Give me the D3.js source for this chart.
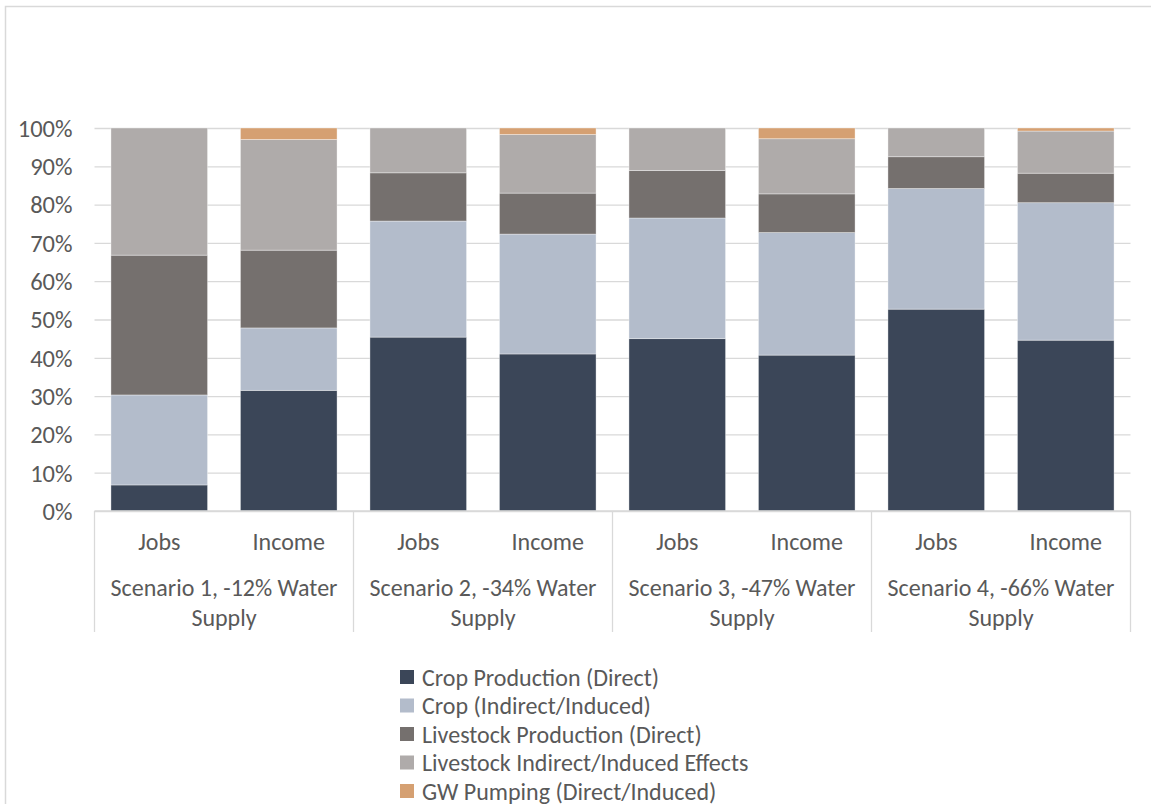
<!DOCTYPE html>
<html>
<head>
<meta charset="utf-8">
<script src="https://cdn.jsdelivr.net/npm/d3@7"></script>
<style>
  html, body { margin: 0; padding: 0; background: #fff; }
  svg { display: block; }
  text { font-family: Carlito, Lato, "Open Sans", sans-serif; fill: #595959; }
</style>
</head>
<body>
<svg id="chart" width="1151" height="804"></svg>
<script>
// Bar categories (inner level) and scenario groups (outer level)
const measures = ["Jobs", "Income"];
const scenarios = [
  ["Scenario 1, -12% Water", "Supply"],
  ["Scenario 2, -34% Water", "Supply"],
  ["Scenario 3, -47% Water", "Supply"],
  ["Scenario 4, -66% Water", "Supply"]
];

// Share of total impact (%), one value per bar: S1 Jobs, S1 Income, S2 Jobs, ...
const cropDirect        = [6.8, 31.5, 45.4, 41.0, 45.0, 40.7, 52.7, 44.6];
const cropIndirect      = [23.5, 16.3, 30.3, 31.3, 31.5, 32.0, 31.5, 35.9];
const livestockDirect   = [36.5, 20.3, 12.6, 10.7, 12.4, 10.1, 8.3, 7.7];
const livestockIndirect = [33.2, 28.9, 11.7, 15.3, 11.1, 14.4, 7.5, 11.0];
const gwPumping         = [0.0, 3.0, 0.0, 1.7, 0.0, 2.8, 0.0, 0.8];

const seriesNames = [
  "Crop Production (Direct)",
  "Crop (Indirect/Induced)",
  "Livestock Production (Direct)",
  "Livestock Indirect/Induced Effects",
  "GW Pumping (Direct/Induced)"
];
const seriesColors = ["#3b4658", "#b3bccb", "#75706e", "#afabaa", "#d5a072"];
const yTicks = [0, 10, 20, 30, 40, 50, 60, 70, 80, 90, 100];

// Build a table for d3.stack
const seriesValues = [cropDirect, cropIndirect, livestockDirect, livestockIndirect, gwPumping];
const rows = [];
scenarios.forEach((s, si) => {
  measures.forEach((m, mi) => {
    const i = si * measures.length + mi;
    const row = { key: i, measure: m, scenario: si };
    seriesNames.forEach((n, k) => { row[n] = seriesValues[k][i]; });
    rows.push(row);
  });
});

const svg = d3.select("#chart");
const plot = { left: 94.5, right: 1130.5, top: 128, bottom: 511 };

// Outer chart frame
svg.append("path")
  .attr("d", "M5.5,804 V6.5 H1151")
  .attr("fill", "none")
  .attr("stroke", "#d9d9d9")
  .attr("stroke-width", 1.5);

const x = d3.scaleBand()
  .domain(rows.map(d => d.key))
  .range([plot.left, plot.right])
  .paddingInner(0.254)
  .paddingOuter(0.127);

const y = d3.scaleLinear().domain([0, 100]).range([plot.bottom, plot.top]);

// Gridlines and percentage axis
const yAxis = d3.axisLeft(y)
  .tickValues(yTicks)
  .tickSize(-(plot.right - plot.left))
  .tickPadding(22)
  .tickFormat(d => d + "%");
const gy = svg.append("g")
  .attr("transform", `translate(${plot.left},0)`)
  .call(yAxis);
gy.select(".domain").remove();
gy.selectAll(".tick line").attr("stroke", "#d9d9d9").attr("stroke-width", 1.3);
gy.selectAll(".tick text")
  .style("font-size", "24.5px")
  .attr("dy", "0.34em")
  .attr("fill", "#595959");

// Stacked bars
const stack = d3.stack().keys(seriesNames);
const layers = stack(rows);
svg.append("g").selectAll("g")
  .data(layers)
  .join("g")
  .attr("fill", (d, i) => seriesColors[i])
  .selectAll("rect")
  .data(d => d.filter(p => p[1] - p[0] > 0))
  .join("rect")
  .attr("x", d => x(d.data.key))
  .attr("width", x.bandwidth())
  .attr("y", d => y(d[1]))
  .attr("height", d => y(d[0]) - y(d[1]))
  .attr("stroke", "#ffffff")
  .attr("stroke-opacity", 0.45)
  .attr("stroke-width", 0.8);

// Category axis: baseline and group dividers
const axisG = svg.append("g");
axisG.append("line")
  .attr("x1", plot.left).attr("x2", plot.right)
  .attr("y1", plot.bottom).attr("y2", plot.bottom)
  .attr("stroke", "#d9d9d9").attr("stroke-width", 1.3);

const step = x.step();
const groupEdges = d3.range(scenarios.length + 1).map(g => plot.left + g * step * measures.length);
axisG.selectAll("line.div")
  .data(groupEdges)
  .join("line")
  .attr("class", "div")
  .attr("x1", d => d).attr("x2", d => d)
  .attr("y1", plot.bottom).attr("y2", 632)
  .attr("stroke", "#d9d9d9").attr("stroke-width", 1.3);

// Inner labels
axisG.selectAll("text.measure")
  .data(rows)
  .join("text")
  .attr("class", "measure")
  .attr("x", d => x(d.key) + x.bandwidth() / 2)
  .attr("y", 550)
  .attr("text-anchor", "middle")
  .style("font-size", "24px")
  .text(d => d.measure);

// Outer (scenario) labels
scenarios.forEach((lines, si) => {
  const cx = (groupEdges[si] + groupEdges[si + 1]) / 2;
  const t = axisG.append("text")
    .attr("x", cx)
    .attr("y", 596)
    .attr("text-anchor", "middle")
    .style("font-size", "24px");
  lines.forEach((ln, li) => {
    t.append("tspan").attr("x", cx).attr("dy", li === 0 ? 0 : 29.5).text(ln);
  });
});

// Legend
const legend = svg.append("g").attr("transform", "translate(400,0)");
const legendY = [677, 705.5, 734, 762.5, 791];
seriesNames.forEach((n, i) => {
  legend.append("rect")
    .attr("x", 0).attr("y", legendY[i] - 7)
    .attr("width", 14).attr("height", 14)
    .attr("fill", seriesColors[i]);
  legend.append("text")
    .attr("x", 22).attr("y", legendY[i] + 8.5)
    .style("font-size", "24px")
    .text(n);
});
</script>
</body>
</html>
